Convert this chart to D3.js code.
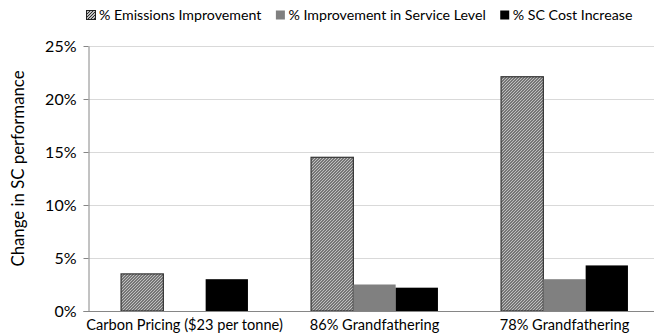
<!DOCTYPE html>
<html>
<head>
<meta charset="utf-8">
<script src="https://cdn.jsdelivr.net/npm/d3@7/dist/d3.min.js"></script>
<style>
  html, body { margin: 0; padding: 0; background: #fff; }
  svg { display: block; font-family: Lato, "Open Sans", sans-serif; }
</style>
</head>
<body>
<svg id="chart" width="654" height="336"></svg>
<script>
// Scenario categories along the x axis
const categories = ["Carbon Pricing ($23 per tonne)", "86% Grandfathering", "78% Grandfathering"];
// Series names (legend order)
const seriesNames = ["% Emissions Improvement", "% Improvement in Service Level", "% SC Cost Increase"];
// Values per series, in percent, one per category
const emissions = [3.5, 14.5, 22.1];
const serviceLevel = [0, 2.5, 3.0];
const costIncrease = [3.0, 2.2, 4.3];
const yTicks = [0, 5, 10, 15, 20, 25];
const yTitle = "Change in SC performance";

const series = [emissions, serviceLevel, costIncrease];

const svg = d3.select("#chart");
const W = 654, H = 336;
const margin = { top: 46, bottom: 25, left: 88.5 };
const bandRight = 659.5;

// Diagonal hatch fill for the emissions series
const defs = svg.append("defs");
const pat = defs.append("pattern")
  .attr("id", "hatch")
  .attr("patternUnits", "userSpaceOnUse")
  .attr("width", 3).attr("height", 3);
pat.append("rect").attr("width", 3).attr("height", 3).attr("fill", "#fff");
pat.append("path")
  .attr("d", "M-1,1 L1,-1 M0,3 L3,0 M2,4 L4,2")
  .attr("stroke", "#222").attr("stroke-width", 1.1);

const fills = ["url(#hatch)", "#808080", "#000"];
const strokes = ["#333", "none", "none"];

const x0 = d3.scaleBand()
  .domain(categories)
  .range([margin.left + 1, bandRight]);
const x1 = d3.scaleBand()
  .domain(d3.range(series.length))
  .range([0, x0.bandwidth()])
  .paddingInner(0)
  .paddingOuter(0.746);
const y = d3.scaleLinear()
  .domain([0, 25])
  .range([H - margin.bottom, margin.top]);

// Horizontal gridlines
svg.append("g")
  .selectAll("line")
  .data(yTicks.filter(t => t > 0))
  .join("line")
  .attr("x1", margin.left).attr("x2", W)
  .attr("y1", d => Math.round(y(d)) + 0.5).attr("y2", d => Math.round(y(d)) + 0.5)
  .attr("stroke", "#d9d9d9").attr("stroke-width", 1.2);

// Bars
const groups = svg.append("g")
  .selectAll("g")
  .data(categories)
  .join("g")
  .attr("transform", d => `translate(${x0(d)},0)`);

groups.selectAll("rect")
  .data((d, i) => series.map((s, k) => ({ k, v: s[i] })))
  .join("rect")
  .filter(d => d.v > 0)
  .attr("x", d => x1(d.k))
  .attr("width", x1.bandwidth())
  .attr("y", d => y(d.v))
  .attr("height", d => y(0) - y(d.v))
  .attr("fill", d => fills[d.k])
  .attr("stroke", d => strokes[d.k])
  .attr("stroke-width", 1.2);

// Y axis
const yAxis = d3.axisLeft(y)
  .tickValues(yTicks)
  .tickFormat(d => d + "%")
  .tickSizeInner(5)
  .tickSizeOuter(0)
  .tickPadding(7);
const gy = svg.append("g")
  .attr("transform", `translate(${margin.left},0)`)
  .call(yAxis);
gy.select(".domain").attr("stroke", "#868686");
gy.selectAll(".tick line").attr("stroke", "#868686");
gy.selectAll(".tick text")
  .attr("fill", "#000")
  .style("font-size", "16px")
  .style("font-family", "Lato, sans-serif");

// X axis (baseline only, labels below)
const xAxis = d3.axisBottom(x0).tickSize(0).tickPadding(9);
const gx = svg.append("g")
  .attr("transform", `translate(0,${y(0)})`)
  .call(xAxis);
gx.select(".domain").attr("stroke", "#868686").attr("d", `M${margin.left - 5},0.5H${W}`);
gx.selectAll(".tick text")
  .attr("fill", "#000")
  .style("font-size", "14.6px")
  .style("font-family", "Lato, sans-serif");

// Y axis title
svg.append("text")
  .attr("transform", `translate(24,${(y(0) + y(25)) / 2 - 10}) rotate(-90)`)
  .attr("text-anchor", "middle")
  .style("font-size", "16.8px")
  .text(yTitle);

// Legend
const legend = svg.append("g").attr("transform", "translate(86,0)");
let lx = 0;
seriesNames.forEach((name, k) => {
  const item = legend.append("g").attr("transform", `translate(${lx},0)`);
  item.append("rect")
    .attr("x", 0.5).attr("y", 10.5)
    .attr("width", 9).attr("height", 9)
    .attr("fill", fills[k])
    .attr("stroke", k === 0 ? "#222" : "none");
  const t = item.append("text")
    .attr("x", 13).attr("y", 20)
    .style("font-size", "14.2px")
    .text(name);
  lx += 13 + t.node().getComputedTextLength() + 14;
});
</script>
</body>
</html>
